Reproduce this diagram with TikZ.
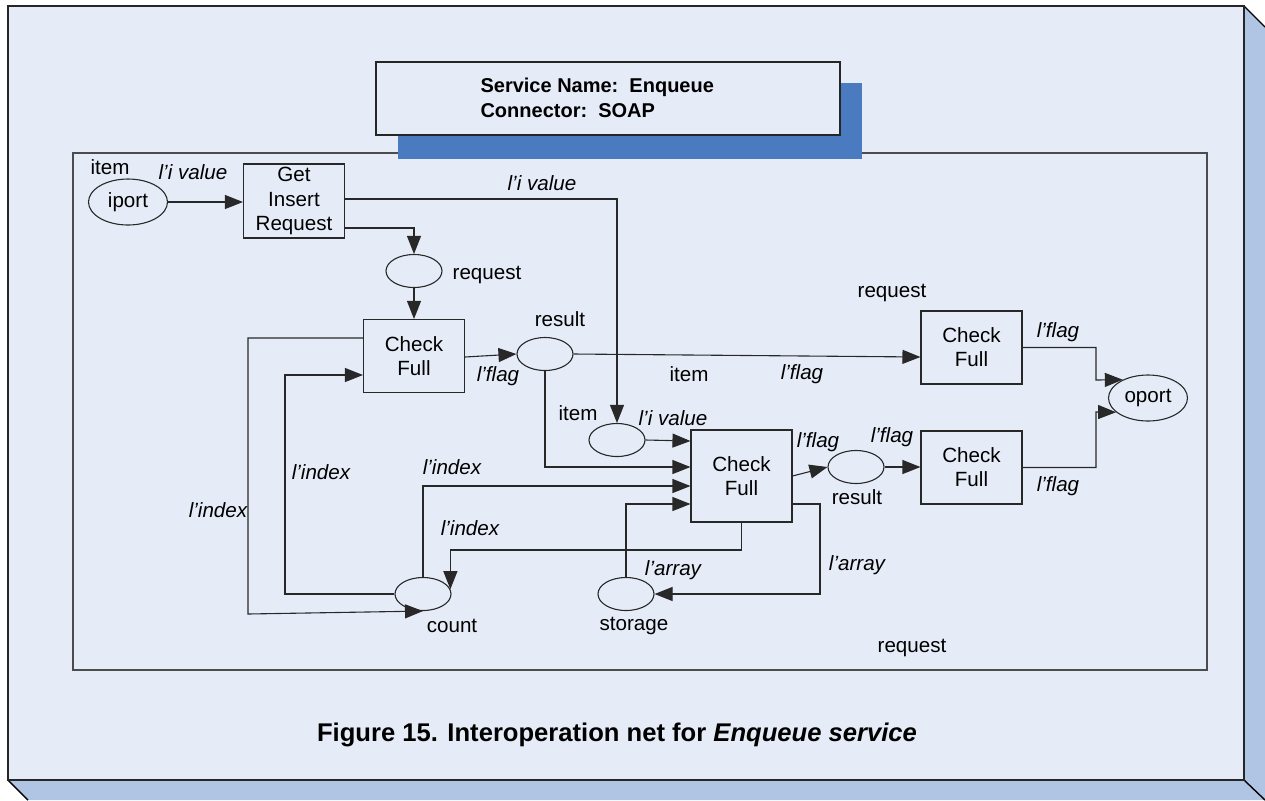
\documentclass[tikz,border=0pt]{standalone}
\usepackage{fontspec}
\setmainfont{Liberation Sans}
\usetikzlibrary{arrows.meta,calc,shapes.geometric}
\definecolor{bgface}{RGB}{230,236,247}
\definecolor{sideface}{RGB}{176,197,228}
\definecolor{hdrshadow}{RGB}{74,123,193}
\definecolor{linec}{RGB}{40,40,40}
\begin{document}
\begin{tikzpicture}[x=0.5pt,y=-0.5pt,
  font=\fontsize{10.3}{12}\selectfont,
  line width=0.55pt,
  place/.style={ellipse,draw=linec,inner sep=0pt,minimum width=28pt,minimum height=16.5pt},
  bigplace/.style={place,minimum width=39.5pt,minimum height=23pt},
  trans/.style={rectangle,draw=linec,inner sep=0pt,minimum width=50.5pt,minimum height=36.5pt,align=center},
  lbl/.style={inner sep=0pt},
  elbl/.style={inner sep=0pt,font=\fontsize{10.3}{12}\selectfont\itshape},
  arr/.style={draw=linec,-{Triangle[length=9pt,width=7pt]}}
]
\useasboundingbox (0,0) rectangle (1265,800);
% outer 3D frame
\fill[sideface] (1244,6) -- (1265,27) -- (1265,800) -- (28,800) -- (8,780) -- (1244,780) -- cycle;
\draw[black,line width=0.7pt] (1244,6) -- (1265,27) (8,780) -- (28,800) (1244,780) -- (1265,800);
\filldraw[fill=bgface,draw=black!85,line width=0.9pt] (8,6) rectangle (1244,780);
% inner frame
\draw[draw=black!70] (73,153) rectangle (1207,670);
% header
\fill[hdrshadow] (398,83) rectangle (862,159);
\node[draw=black!85,fill=bgface,minimum width=232pt,minimum height=36.5pt,inner sep=0pt,line width=0.7pt] (hdr) at (608,98.5) {};
\node[anchor=west,align=left,inner sep=0pt,font=\bfseries\fontsize{10}{12.5}\selectfont] (hdrtext) at (480,97.5) {Service Name:\ \ Enqueue\\Connector:\ \ SOAP};

% places
\node[bigplace] (iport) at (128,202) {iport};
\node[place] (req) at (414,271) {};
\node[place] (result1) at (545,354) {};
\node[place] (itemp) at (617,440) {};
\node[place] (result2) at (856,467) {};
\node[place] (count) at (423,594) {};
\node[place] (storage) at (626,594) {};
\node[bigplace] (oport) at (1148,398) {oport};

% transitions
\node[trans,minimum height=37pt,font=\fontsize{10.3}{12.2}\selectfont] (gir) at (294,201) {Get\\Insert\\Request};
\node[trans] (cf1) at (414,356) {Check\\Full};
\node[trans] (cf2) at (971.5,347.5) {Check\\Full};
\node[trans] (cf3) at (971.5,467.5) {Check\\Full};
\node[trans,minimum height=46pt] (cf4) at (741.5,476) {Check\\Full};

% connectors
\draw[arr] (iport.east) -- (gir.west |- iport.east);
\draw[arr] (gir.east |- 0,199) -| (itemp.north);
\draw[arr] (gir.east |- 0,228) -| (req.north);
\draw[arr] (req.south) -- (cf1.north);
\draw[arr] (cf1.east |- 0,357) -- (result1.west);
\draw[arr] (result1.east) -- (cf2.west |- 0,357);
\draw[arr] (cf2.east) -| (1096,380) -- (oport.144);
\draw[arr] (cf3.east) -| (1096,412) -- (oport.204);
\draw[arr] (result2.east) -- (cf3.west |- result2.east);
\draw[arr] (cf4.east) -- (result2.west);
\draw[arr] (itemp.east) -- (cf4.west |- 0,441);
\draw[arr] (result1.south) |- (cf4.west |- 0,467);
\draw[arr] (count.north) |- (cf4.west |- 0,486);
\draw[arr] (storage.north) |- (cf4.west |- 0,504);
\draw[arr] (cf4.south) -- (cf4.south |- 0,550) -| (count.10);
\draw[arr] (cf4.east |- 0,504) -- (820,504) |- (storage.east);
\draw[arr] (count.west) -| (285,375) -- (cf1.west |- 0,375);
\draw[arr] (cf1.west |- 0,338) -| (248,614) -- (count.south);

% labels
\node[lbl] (l1) at (110,167) {item};
\node[elbl] (l2) at (193,172) {l’i value};
\node[elbl] (l3) at (542,183) {l’i value};
\node[lbl] (l4) at (487,275) {request};
\node[lbl] (l5) at (560,319) {result};
\node[elbl] (l6) at (498,376) {l’flag};
\node[lbl] (l7) at (689,374) {item};
\node[elbl] (l8) at (802,374) {l’flag};
\node[lbl] (l9) at (892,293) {request};
\node[elbl] (l10) at (1058,332) {l’flag};
\node[lbl] (l11) at (578,413) {item};
\node[elbl] (l12) at (673,418) {l’i value};
\node[elbl] (l13) at (818,442) {l’flag};
\node[elbl] (l14) at (892,437) {l’flag};
\node[lbl] (l15) at (857,497) {result};
\node[elbl] (l16) at (1058,486) {l’flag};
\node[elbl] (l17) at (218,510) {l’index};
\node[elbl] (l18) at (321,472) {l’index};
\node[elbl] (l19) at (452,467) {l’index};
\node[elbl] (l20) at (470,528) {l’index};
\node[elbl] (l21) at (673,570) {l’array};
\node[elbl] (l22) at (857,565) {l’array};
\node[lbl] (l23) at (634,626) {storage};
\node[lbl] (l24) at (452,626) {count};
\node[lbl] (l25) at (912,648) {request};

% caption
\node[font=\bfseries\fontsize{12.8}{15}\selectfont,inner sep=0pt] (cap) at (617,735) {Figure 15. Interoperation net for \textit{Enqueue service}};
\end{tikzpicture}
\end{document}
